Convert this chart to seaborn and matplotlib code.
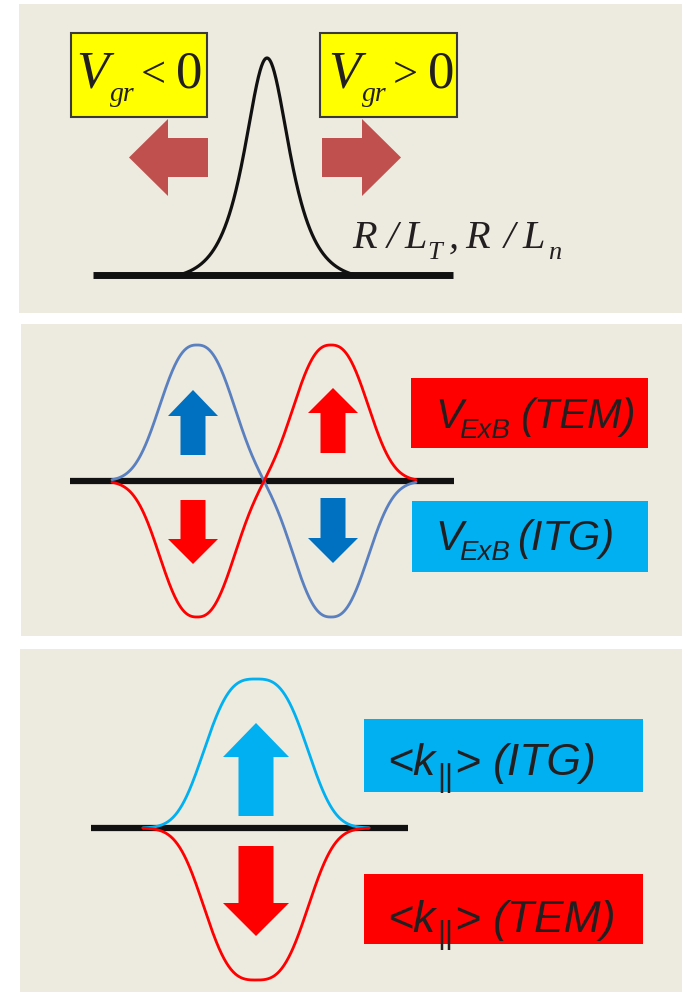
import numpy as np
import pandas as pd
import matplotlib
matplotlib.use("Agg")
import matplotlib.pyplot as plt
import seaborn as sns
from matplotlib.patches import Rectangle, Polygon

sns.set_theme(style="white")

# ---------------- diagram data (pixel units) ----------------
BG = "#EDEADF"

# panel 1: single peaked profile
p1_center = 267
p1_height = 217
p1_width = 20
p1_half_span = 88
p1_base = 275

# panel 2: two opposite lobes per curve
p2_lobes = [197, 331]
p2_blue_sign = [1, -1]
p2_red_sign = [-1, 1]
p2_height = 136
p2_width = 46
p2_span = [112, 416]
p2_base = 481

# panel 3: one lobe up, one lobe down
p3_center = 256
p3_height_up = 149
p3_height_down = 152
p3_width = 60
p3_half_span = 113
p3_base = 828

# arrows: centre, tail end, head base, tip, tail half width, head half width, colour
h_arrows = [
    (157.5, 208, 168, 129, 19.5, 38.5, "#C0504D"),
    (157.5, 322, 362, 401, 19.5, 38.5, "#C0504D"),
]
v_arrows = [
    (193, 455, 416, 390, 12.5, 25, "#0070C0"),
    (333, 453, 413, 388, 12.5, 25, "#FF0000"),
    (193, 500, 539, 564, 12.5, 25, "#FF0000"),
    (333, 498, 538, 563, 12.5, 25, "#0070C0"),
    (256, 816, 757, 723, 17.5, 33, "#00B0F0"),
    (256, 846, 903, 936, 17.5, 33, "#FF0000"),
]


def sech_peak(x, c, w, half):
    s = 1 / np.cosh((x - c) / w)
    s0 = 1 / np.cosh(half / w)
    return (s - s0) / (1 - s0)


def flat_lobe(x, c, w, p=2.5):
    return np.exp(-np.abs((x - c) / w) ** p)


fig = plt.figure(figsize=(6.82, 9.93), dpi=100)
fig.patch.set_facecolor("white")
ax = fig.add_axes([0, 0, 1, 1])
ax.set_xlim(0, 682)
ax.set_ylim(993, 0)
ax.axis("off")

# panel backgrounds
for x0, y0, y1 in [(19, 4, 313), (21, 324, 636), (20, 649, 992)]:
    ax.add_patch(Rectangle((x0, y0), 682 - x0, y1 - y0, facecolor=BG,
                           edgecolor="none", zorder=0))

# baselines
ax.plot([93, 453], [p1_base, p1_base], color="#111111", lw=5, zorder=2,
        solid_capstyle="butt")
ax.plot([70, 454], [p2_base, p2_base], color="#111111", lw=4.5, zorder=2,
        solid_capstyle="butt")
ax.plot([91, 408], [p3_base, p3_base], color="#111111", lw=4.5, zorder=2,
        solid_capstyle="butt")

# curves
x1 = np.linspace(p1_center - p1_half_span, p1_center + p1_half_span, 400)
df1 = pd.DataFrame({"x": x1,
                    "y": p1_base - p1_height * sech_peak(x1, p1_center, p1_width, p1_half_span),
                    "curve": "profile"})

x2 = np.linspace(p2_span[0], p2_span[1], 500)
blue2 = sum(s * flat_lobe(x2, c, p2_width) for s, c in zip(p2_blue_sign, p2_lobes))
red2 = sum(s * flat_lobe(x2, c, p2_width) for s, c in zip(p2_red_sign, p2_lobes))
df2 = pd.concat([
    pd.DataFrame({"x": x2, "y": p2_base - p2_height * blue2, "curve": "itg"}),
    pd.DataFrame({"x": x2, "y": p2_base - p2_height * red2, "curve": "tem"}),
])

x3 = np.linspace(p3_center - p3_half_span, p3_center + p3_half_span, 400)
df3 = pd.concat([
    pd.DataFrame({"x": x3, "y": p3_base - p3_height_up * flat_lobe(x3, p3_center, p3_width, 3),
                  "curve": "up"}),
    pd.DataFrame({"x": x3, "y": p3_base + p3_height_down * flat_lobe(x3, p3_center, p3_width, 3),
                  "curve": "down"}),
])

sns.lineplot(data=df1, x="x", y="y", hue="curve", palette={"profile": "#111111"},
             estimator=None, sort=False, lw=2.3, legend=False, ax=ax, zorder=3)
sns.lineplot(data=df2, x="x", y="y", hue="curve",
             palette={"itg": "#5A80BF", "tem": "#FF0000"},
             estimator=None, sort=False, lw=2.0, legend=False, ax=ax, zorder=3)
sns.lineplot(data=df3, x="x", y="y", hue="curve",
             palette={"up": "#00B0F0", "down": "#FF0000"},
             estimator=None, sort=False, lw=2.0, legend=False, ax=ax, zorder=3)

# block arrows
for cy, tail, base, tip, tw, hw, col in h_arrows:
    pts = [(tail, cy - tw), (base, cy - tw), (base, cy - hw), (tip, cy),
           (base, cy + hw), (base, cy + tw), (tail, cy + tw)]
    ax.add_patch(Polygon(pts, closed=True, facecolor=col, edgecolor="none", zorder=4))
for cx, tail, base, tip, tw, hw, col in v_arrows:
    pts = [(cx - tw, tail), (cx - tw, base), (cx - hw, base), (cx, tip),
           (cx + hw, base), (cx + tw, base), (cx + tw, tail)]
    ax.add_patch(Polygon(pts, closed=True, facecolor=col, edgecolor="none", zorder=4))

# label boxes
boxes = [
    (71, 33, 207, 117, "#FFFF00", "#3A3A3A"),
    (320, 33, 457, 117, "#FFFF00", "#3A3A3A"),
    (411, 378, 648, 448, "#FF0000", "none"),
    (412, 501, 648, 572, "#00B0F0", "none"),
    (364, 719, 643, 792, "#00B0F0", "none"),
    (364, 874, 643, 944, "#FF0000", "none"),
]
for bx0, by0, bx1, by1, fc, ec in boxes:
    ax.add_patch(Rectangle((bx0, by0), bx1 - bx0, by1 - by0, facecolor=fc,
                           edgecolor=ec, lw=1.5, zorder=5))

SERIF = "Liberation Serif"
SANS = "Liberation Sans"
TXT = "#231F20"
pieces = [
    # yellow boxes
    (76, 88, "V", SERIF, 38, "italic"),
    (110, 101, "gr", SERIF, 20, "italic"),
    (141, 87, "<", SERIF, 32, "normal"),
    (176, 88, "0", SERIF, 38, "normal"),
    (328, 88, "V", SERIF, 38, "italic"),
    (362, 101, "gr", SERIF, 20, "italic"),
    (393, 87, ">", SERIF, 32, "normal"),
    (428, 88, "0", SERIF, 38, "normal"),
    # gradient label
    (352, 248, "R", SERIF, 29, "italic"),
    (387, 248, "/", SERIF, 29, "italic"),
    (404, 248, "L", SERIF, 29, "italic"),
    (427, 259, "T", SERIF, 19, "italic"),
    (449, 248, ",", SERIF, 29, "italic"),
    (465, 248, "R", SERIF, 29, "italic"),
    (504, 248, "/", SERIF, 29, "italic"),
    (522, 248, "L", SERIF, 29, "italic"),
    (548, 259, "n", SERIF, 19, "italic"),
    # ExB labels
    (435, 428, "V", SANS, 30, "italic"),
    (459, 438, "ExB", SANS, 20, "italic"),
    (520, 428, "(TEM)", SANS, 30, "italic"),
    (435, 550, "V", SANS, 30, "italic"),
    (459, 560, "ExB", SANS, 20, "italic"),
    (517, 550, "(ITG)", SANS, 30, "italic"),
    # k-parallel labels
    (387, 775, "<k", SANS, 32, "italic"),
    (437, 786, "||", SANS, 22, "normal"),
    (454, 775, ">", SANS, 32, "italic"),
    (493, 775, "(ITG)", SANS, 32, "italic"),
    (387, 932, "<k", SANS, 32, "italic"),
    (437, 943, "||", SANS, 22, "normal"),
    (454, 932, ">", SANS, 32, "italic"),
    (493, 932, "(TEM)", SANS, 32, "italic"),
]
for tx, ty, s, fam, size, style in pieces:
    ax.text(tx, ty, s, family=fam, fontsize=size, style=style, color=TXT,
            ha="left", va="baseline", zorder=6)

fig.savefig("out.png", dpi=100, facecolor="white")
